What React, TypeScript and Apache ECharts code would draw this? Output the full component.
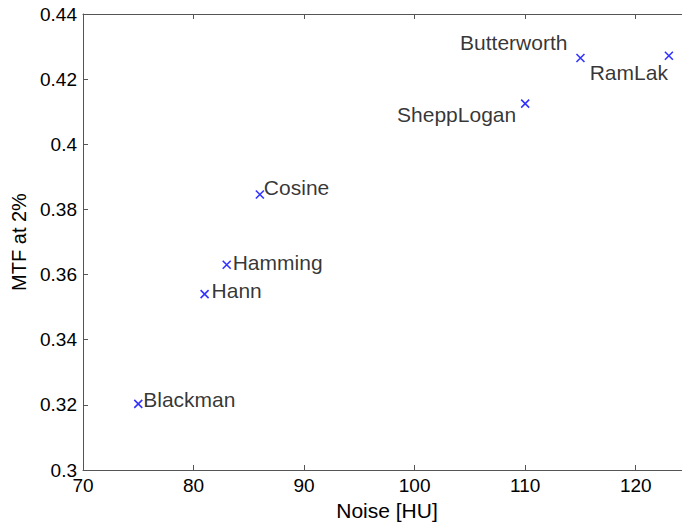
import React, { useEffect, useRef } from "react";
import * as echarts from "echarts";

const names = ["Blackman", "Hann", "Hamming", "Cosine", "SheppLogan", "Butterworth", "RamLak"];
const noise = [75, 81, 83, 86, 110, 115, 123];
const mtf = [0.3203, 0.354, 0.363, 0.3846, 0.4125, 0.4265, 0.4272];
// label placement per point: [align, dx, dy]
const labelPlace: [string, number, number][] = [
  ["left", 5, -4],
  ["left", 7, -4],
  ["left", 6, -2],
  ["left", 4, -7],
  ["right", -9, 11],
  ["right", -13, -15],
  ["right", -1, 17],
];

const FONT = "'Liberation Sans', Arial, Helvetica, sans-serif";
const FS = 19;
const LFS = 21;
const AXIS_COLOR = "#555";

export default function App() {
  const ref = useRef<HTMLDivElement>(null);
  useEffect(() => {
    const chart = echarts.init(ref.current!, null, { renderer: "svg" });
    const data = names.map((n, i) => ({
      value: [noise[i], mtf[i]],
      name: n,
      label: {
        show: true,
        formatter: n,
        position: "inside",
        align: labelPlace[i][0],
        verticalAlign: "middle",
        offset: [labelPlace[i][1], labelPlace[i][2]],
        color: "#000",
        fontSize: LFS,
        fontFamily: FONT,
      },
    }));
    chart.setOption({
      animation: false,
      backgroundColor: "#fff",
      grid: { left: 83, top: 14, width: 608, height: 456, outerBoundsMode: "none", containLabel: false },
      xAxis: [
        {
          type: "value",
          min: 70,
          max: 125,
          interval: 10,
          name: "Noise [HU]",
          nameLocation: "middle",
          nameGap: 28,
          nameTextStyle: { color: "#000", fontSize: LFS, fontFamily: FONT },
          axisLine: { show: true, lineStyle: { color: AXIS_COLOR, width: 1 } },
          axisTick: { show: true, inside: true, length: 5, lineStyle: { color: AXIS_COLOR } },
          axisLabel: { color: "#000", fontSize: FS, fontFamily: FONT, margin: 6, showMaxLabel: false },
          splitLine: { show: false },
        },
        {
          type: "value",
          position: "top",
          min: 70,
          max: 125,
          interval: 10,
          axisLine: { show: true, lineStyle: { color: AXIS_COLOR, width: 1 } },
          axisTick: { show: true, inside: true, length: 5, lineStyle: { color: AXIS_COLOR } },
          axisLabel: { show: false },
          splitLine: { show: false },
        },
      ],
      yAxis: {
        type: "value",
        min: 0.3,
        max: 0.44,
        interval: 0.02,
        name: "MTF at 2%",
        nameLocation: "middle",
        nameGap: 51,
        nameRotate: 90,
        nameTextStyle: { color: "#000", fontSize: LFS - 1, fontFamily: FONT },
        axisLine: { show: true, lineStyle: { color: AXIS_COLOR, width: 1 } },
        axisTick: { show: true, inside: true, length: 5, lineStyle: { color: AXIS_COLOR } },
        axisLabel: { color: "#000", fontSize: FS, fontFamily: FONT, margin: 6 },
        splitLine: { show: false },
      },
      series: [
        {
          type: "scatter",
          data,
          symbol: "path://M0,0L10,10M10,0L0,10",
          symbolSize: 8,
          itemStyle: { color: "none", borderColor: "#0000ff", borderWidth: 1.6 },
        },
      ],
    });
    return () => chart.dispose();
  }, []);
  return (
    <div
      ref={ref}
      style={{ position: "absolute", left: 0, top: 0, width: 682, height: 524, overflow: "hidden" }}
    />
  );
}
